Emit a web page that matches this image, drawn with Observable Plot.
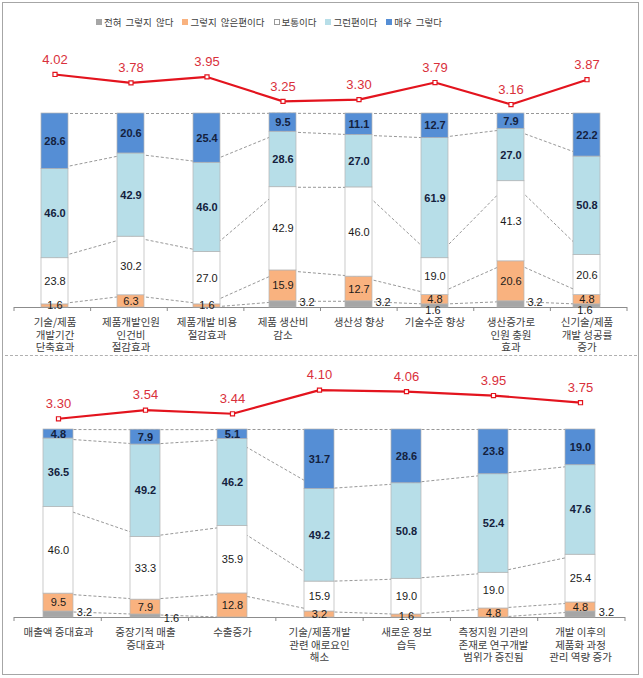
<!DOCTYPE html>
<html><head><meta charset="utf-8">
<script src="https://cdn.jsdelivr.net/npm/d3@7"></script>
<script src="https://cdn.jsdelivr.net/npm/@observablehq/plot@0.6"></script>
<style>
body{margin:0;background:#fff;}
#root{position:relative;width:643px;height:678px;overflow:hidden;font-family:"Liberation Sans",Arial,sans-serif;}
#frame{position:absolute;left:2px;top:2px;width:637px;height:673px;border:1px solid #a6a6a6;box-sizing:border-box;}
#sep{position:absolute;left:5px;top:355px;width:632px;border-top:1px dashed #b0b0b0;}
#legend{position:absolute;top:15px;left:96px;display:flex;align-items:center;font-family:"Noto Sans CJK KR",sans-serif;font-size:9.5px;color:#404040;white-space:nowrap;word-spacing:2px;}
#legend .it{display:flex;align-items:center;margin-right:9px;}
#legend .sw{width:6px;height:6px;margin-right:2px;box-sizing:border-box;}
#root svg{position:absolute;left:0;}
</style></head><body><div id="root"><div id="frame"></div><div id="sep"></div><div id="legend"></div></div>
<script>
const levels = ["전혀 그렇지 않다","그렇지 않은편이다","보통이다","그런편이다","매우 그렇다"];
const colors = ["#a6a6a6","#f9b27f","#ffffff","#b7dee8","#558ed5"];

// Panel 1
const cats1 = ["기술/제품 개발기간 단축효과","제품개발인원 인건비 절감효과","제품개발 비용 절감효과","제품 생산비 감소","생산성 향상","기술수준 향상","생산증가로 인원 충원 효과","신기술/제품 개발 성공률 증가"];
const ticks1 = ["기술/제품\n개발기간\n단축효과","제품개발인원\n인건비\n절감효과","제품개발 비용\n절감효과","제품 생산비\n감소","생산성 향상","기술수준 향상","생산증가로\n인원 충원\n효과","신기술/제품\n개발 성공률\n증가"];
const p1_none   = [0, 0, 0, 3.2, 3.2, 1.6, 3.2, 1.6];
const p1_low    = [1.6, 6.3, 1.6, 15.9, 12.7, 4.8, 20.6, 4.8];
const p1_mid    = [23.8, 30.2, 27.0, 42.9, 46.0, 19.0, 41.3, 20.6];
const p1_high   = [46.0, 42.9, 46.0, 28.6, 27.0, 61.9, 27.0, 50.8];
const p1_top    = [28.6, 20.6, 25.4, 9.5, 11.1, 12.7, 7.9, 22.2];
const p1_avg    = [4.02, 3.78, 3.95, 3.25, 3.30, 3.79, 3.16, 3.87];

// Panel 2
const cats2 = ["매출액 증대효과","중장기적 매출 증대효과","수출증가","기술/제품개발 관련 애로요인 해소","새로운 정보 습득","측정지원 기관의 존재로 연구개발 범위가 증진됨","개발 이후의 제품화 과정 관리 역량 증가"];
const ticks2 = ["매출액 증대효과","중장기적 매출\n증대효과","수출증가","기술/제품개발\n관련 애로요인\n해소","새로운 정보\n습득","측정지원 기관의\n존재로 연구개발\n범위가 증진됨","개발 이후의\n제품화 과정\n관리 역량 증가"];
const p2_none   = [3.2, 1.6, 0, 0, 0, 0, 3.2];
const p2_low    = [9.5, 7.9, 12.8, 3.2, 1.6, 4.8, 4.8];
const p2_mid    = [46.0, 33.3, 35.9, 15.9, 19.0, 19.0, 25.4];
const p2_high   = [36.5, 49.2, 46.2, 49.2, 50.8, 52.4, 47.6];
const p2_top    = [4.8, 7.9, 5.1, 31.7, 28.6, 23.8, 19.0];
const p2_avg    = [3.30, 3.54, 3.44, 4.10, 4.06, 3.95, 3.75];

// Legend
const lg = document.getElementById("legend");
levels.forEach((l,i)=>{
  const it = document.createElement("div"); it.className="it";
  const sw = document.createElement("div"); sw.className="sw";
  sw.style.background = colors[i];
  if (i===2) sw.style.border = "1px solid #999";
  const t = document.createElement("span"); t.textContent = l;
  it.appendChild(sw); it.appendChild(t); lg.appendChild(it);
});

const root = document.getElementById("root");
const RED = "#e3141e";

function panel(cfg){
  const {cats, ticks, series, avg} = cfg;
  const n = cats.length;
  const W = 643;
  const step = (W - cfg.ml - cfg.mr) / n;
  const bw = step * 0.35;
  const xOpt = {type:"band", domain:cats, paddingInner:0.65, paddingOuter:0.325, align:0.5, axis:null};
  const cum = cats.map((c,i)=>{ let s=0; return series.map(arr=>{ s+=arr[i]; return s; }); });
  const segs = [];
  cats.forEach((c,i)=>{
    series.forEach((arr,k)=>{
      const v = arr[i];
      if (!v) return;
      const y1 = k ? cum[i][k-1] : 0, y2 = cum[i][k];
      segs.push({cat:c, level:levels[k], k, value:v, y1, y2, mid:(y1+y2)/2, t:v.toFixed(1)});
    });
  });
  const links = [];
  for (let b=0;b<5;b++) for (let i=0;i<n-1;i++){
    const a = cum[i][b], c2 = cum[i+1][b];
    if (a===0 && c2===0) continue;
    links.push({x1:cats[i], x2:cats[i+1], y1:a, y2:c2});
  }
  const axisLabels = cats.map((c,i)=>({cat:c, t:ticks[i], y:0}));
  const grayBig = segs.filter(d=>d.k===0 && d.value>=2);
  const graySmall = segs.filter(d=>d.k===0 && d.value<2);
  const smallMark = cfg.smallGray === "below"
    ? Plot.text(graySmall, {x:"cat", y:d=>0, text:"t", dy:3, dx:-2, fontSize:11, fill:"#1a1a1a"})
    : Plot.text(graySmall, {x:"cat", y:d=>0, text:"t", dy:1, dx:bw/2+3, textAnchor:"start", fontSize:11, fill:"#1a1a1a"});

  const bars = Plot.plot({
    width:W, height:cfg.bh, marginTop:cfg.bmt, marginBottom:cfg.bmb, marginLeft:cfg.ml, marginRight:cfg.mr,
    x:xOpt, y:{domain:[0,100], axis:null},
    color:{domain:levels, range:colors},
    style:{fontFamily:"'Liberation Sans', Arial, sans-serif", background:"transparent", overflow:"visible"},
    marks:[
      Plot.link(links, {x1:"x1", x2:"x2", y1:"y1", y2:"y2", stroke:"#8c8c8c", strokeWidth:0.9, strokeDasharray:"3,2"}),
      Plot.ruleY([0], {stroke:"#8c8c8c", strokeWidth:1}),
      Plot.barY(segs, {x:"cat", y1:"y1", y2:"y2", fill:"level", stroke:"#b4b4b4", strokeWidth:0.7}),
      Plot.text(segs.filter(d=>d.k===1||d.k===2), {x:"cat", y:"mid", text:"t", fontSize:11, fill:"#1a1a1a"}),
      Plot.text(segs.filter(d=>d.k>=3), {x:"cat", y:"mid", text:"t", fontSize:11, fontWeight:"bold", fill:"#14213d"}),
      Plot.text(grayBig, {x:"cat", y:"mid", text:"t", dx:bw/2+3, dy:-2, textAnchor:"start", fontSize:11, fill:"#1a1a1a"}),
      smallMark,
      Plot.text(axisLabels, {x:"cat", y:"y", text:"t", dy:10, lineAnchor:"top", lineHeight:1.18, fontSize:10.5, fill:"#404040", fontFamily:"'Noto Sans CJK KR', sans-serif"})
    ]
  });
  bars.style.top = cfg.btop + "px";
  // band-boundary ticks on the category axis
  const ys = bars.scale("y"), xs = bars.scale("x");
  const y0 = ys.apply(0);
  const r0 = Math.min(...xs.range);
  const g = d3.select(bars).append("g").attr("stroke","#8c8c8c");
  for (let j=0;j<=n;j++){
    const x = r0 + j*step;
    g.append("line").attr("x1",x).attr("x2",x).attr("y1",y0).attr("y2",y0+4);
  }
  root.appendChild(bars);

  const avgData = cats.map((c,i)=>({cat:c, v:avg[i], t:avg[i].toFixed(2)}));
  const line = Plot.plot({
    width:W, height:cfg.lh, marginLeft:cfg.ml, marginRight:cfg.mr, marginTop:0, marginBottom:0,
    x:xOpt, y:{domain:[3,4.2], range:cfg.lrange, axis:null},
    style:{fontFamily:"'Liberation Sans', Arial, sans-serif", background:"transparent", overflow:"visible"},
    marks:[
      Plot.line(avgData, {x:"cat", y:"v", stroke:RED, strokeWidth:2.2}),
      Plot.dot(avgData, {x:"cat", y:"v", symbol:"square", r:2.3, fill:"white", stroke:RED, strokeWidth:1.2}),
      Plot.text(avgData, {x:"cat", y:"v", text:"t", dy:-15, fontSize:13, fill:"#d9303b"})
    ]
  });
  line.style.top = cfg.ltop + "px";
  root.appendChild(line);
}

panel({cats:cats1, ticks:ticks1, series:[p1_none,p1_low,p1_mid,p1_high,p1_top], avg:p1_avg,
  ml:14, mr:16, btop:100, bh:258, bmt:13, bmb:51, ltop:40, lh:75, lrange:[69.6,27.7], smallGray:"below"});
panel({cats:cats2, ticks:ticks2, series:[p2_none,p2_low,p2_mid,p2_high,p2_top], avg:p2_avg,
  ml:14, mr:18, btop:415, bh:262, bmt:14, bmb:60, ltop:360, lh:70, lrange:[69.0,26.1], smallGray:"right"});
</script></body></html>
